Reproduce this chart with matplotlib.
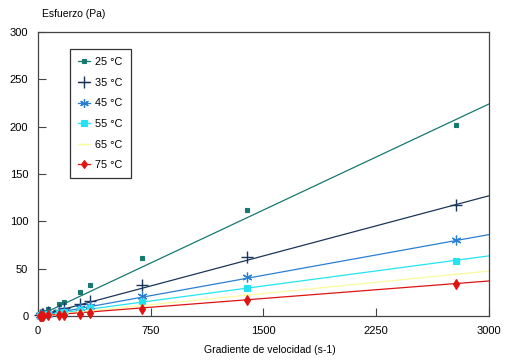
import matplotlib
matplotlib.use("Agg")
import matplotlib.pyplot as plt
import numpy as np
from matplotlib.lines import Line2D

plt.rcParams['font.family'] = ['Liberation Sans', 'DejaVu Sans']

# Data
shear_rate = [2780, 1390, 695, 347, 278, 174, 139, 69, 35, 28, 17, 14]
labels = ["25 °C", "35 °C", "45 °C", "55 °C", "65 °C", "75 °C"]
stress_25 = [202, 112, 61, 33, 25, 15, 12.5, 7, 4, 3.3, 2.3, 1.9]
stress_35 = [117, 62, 33, 16, 13, 8, 6.5, 3.7, 2, 1.7, 1.2, 1.0]
stress_45 = [80, 41, 21, 10.5, 8.5, 5.5, 4.5, 2.5, 1.4, 1.1, 0.8, 0.6]
stress_55 = [58, 30, 15, 8, 6.5, 4, 3.2, 1.8, 1.0, 0.8, 0.6, 0.5]
stress_65 = [44, 23, 11.5, 6, 5, 3, 2.5, 1.4, 0.8, 0.6, 0.4, 0.3]
stress_75 = [34, 17, 7.5, 3, 2, 1.5, 1.2, 0.7, 0.4, 0.3, 0.2, 0.2]
# Trend lines (value at x = 3000, starting at origin)
trend_end = [224, 127, 86, 63.5, 47.5, 37]
x_ticks = [0, 750, 1500, 2250, 3000]
y_ticks = [0, 50, 100, 150, 200, 250, 300]

series = [stress_25, stress_35, stress_45, stress_55, stress_65, stress_75]
colors = ['#17796f', '#1b3658', '#2b7fd2', '#22e4f0', '#fbfa9e', '#e01212']
markers = ['s', '+', (6, 2, 0), 's', '_', 'd']
msizes = [2.6, 9, 7, 4.5, 6, 4.8]
mew = [0.8, 1.0, 0.9, 0.8, 1.0, 0.8]

fig = plt.figure(figsize=(5.06, 3.6), dpi=100)
ax = fig.add_axes([38/506, 44/360, 451/506, 284/360])

for i in range(len(series)):
    ax.plot([0, 3000], [0, trend_end[i]], color=colors[i], lw=0.9, zorder=2)
    ax.plot(shear_rate, series[i], linestyle='none', marker=markers[i],
            markersize=msizes[i], color=colors[i], markeredgewidth=mew[i],
            clip_on=False, zorder=3)

handles = [Line2D([0], [0], color=colors[i], lw=0.9, marker=markers[i],
                  markersize=msizes[i] * (1.3 if i == 0 else 0.9),
                  markeredgewidth=mew[i]) for i in range(len(series))]
leg = ax.legend(handles, labels, loc='upper left', bbox_to_anchor=(0.071, 0.940),
                borderaxespad=0, frameon=True, fancybox=False, fontsize=7.8,
                handlelength=1.1, handletextpad=0.5, labelspacing=0.98,
                borderpad=0.75)
leg.get_frame().set_edgecolor('black')
leg.get_frame().set_linewidth(0.9)

ax.set_xlim(0, 3000)
ax.set_ylim(0, 300)
ax.set_xticks(x_ticks)
ax.set_yticks(y_ticks)
ax.tick_params(direction='in', length=6, width=0.8, color='#444444',
               labelsize=8, pad=7)
for s in ax.spines.values():
    s.set_color('#444444')
    s.set_linewidth(0.9)

fig.text(42/506, 1 - 14/360, "Esfuerzo (Pa)", fontsize=7.5, va='center', ha='left')
fig.text(204/506, 1 - 350/360, "Gradiente de velocidad (s-1)", fontsize=7.5,
         va='center', ha='left')

fig.savefig("out.png", dpi=100)
